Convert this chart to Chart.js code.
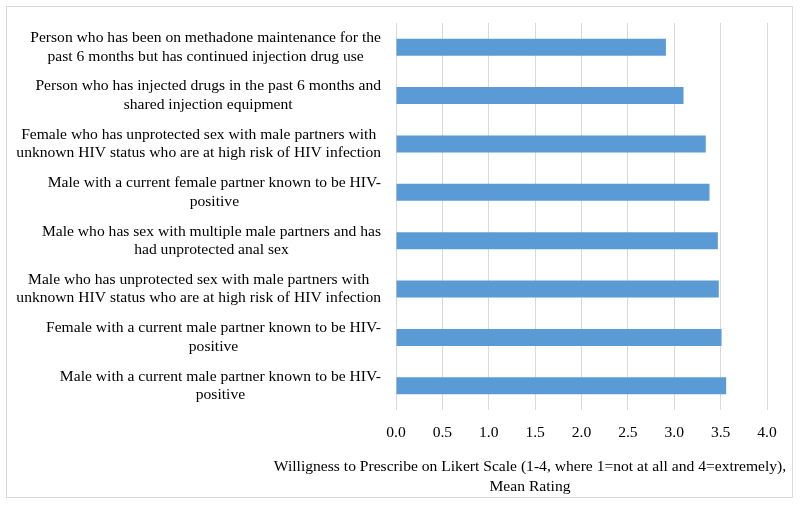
<!DOCTYPE html>
<html>
<head>
<meta charset="utf-8">
<title>Willingness to prescribe</title>
<script src="https://cdn.jsdelivr.net/npm/chart.js@4/dist/chart.umd.min.js"></script>
<style>
  html, body { margin: 0; padding: 0; background: #fff; }
  #wrap { width: 800px; height: 506px; }
</style>
</head>
<body>
<div id="wrap"><canvas id="myChart" width="800" height="506"></canvas></div>
<script>
// categories, top to bottom, split into the lines used in the picture
const categories = [
  ["Person who has been on methadone maintenance for the", "past 6 months but has continued injection drug use"],
  ["Person who has injected drugs in the past 6 months and", "shared injection equipment"],
  ["Female who has unprotected sex with male partners with", "unknown HIV status who are at high risk of HIV infection"],
  ["Male with a current female partner known to be HIV-", "positive"],
  ["Male who has sex with multiple male partners and has", "had unprotected anal sex"],
  ["Male who has unprotected sex with male partners with", "unknown HIV status who are at high risk of HIV infection"],
  ["Female with a current male partner known to be HIV-", "positive"],
  ["Male with a current male partner known to be HIV-", "positive"]
];
const meanRating = [2.91, 3.10, 3.34, 3.38, 3.47, 3.48, 3.51, 3.56];
const xTicks = [0, 0.5, 1, 1.5, 2, 2.5, 3, 3.5, 4];
const axisTitle = ["Willigness to Prescribe on Likert Scale (1-4, where 1=not at all and 4=extremely),", "Mean Rating"];

const FONT = "'Liberation Serif', 'Times New Roman', serif";
const FSIZE = 15.6;

// outer frame round the whole chart
const frame = {
  id: 'frame',
  beforeDraw(chart) {
    const c = chart.ctx;
    c.save();
    c.strokeStyle = '#d9d9d9';
    c.lineWidth = 1;
    c.strokeRect(6.5, 6.5, 786, 491);
    c.restore();
  }
};

// category labels: block right aligned to the axis, lines centred inside the block
const catLabels = {
  id: 'catLabels',
  afterDraw(chart) {
    const c = chart.ctx;
    const y = chart.scales.y;
    const lh = 18.5;
    c.save();
    c.font = FSIZE + 'px ' + FONT;
    c.fillStyle = '#000';
    c.textBaseline = 'middle';
    c.textAlign = 'center';
    categories.forEach(function (lines, i) {
      let w = 0;
      lines.forEach(function (l) { w = Math.max(w, c.measureText(l).width); });
      const right = chart.chartArea.left - 15;
      const cx = right - w / 2;
      const cy = y.getPixelForValue(i);
      const top = cy - (lines.length - 1) * lh / 2;
      lines.forEach(function (l, j) { c.fillText(l, cx, top + j * lh); });
    });
    // axis title
    c.fillText(axisTitle[0], 530, 467);
    c.fillText(axisTitle[1], 530, 487);
    c.restore();
  }
};

let ctx = document.getElementById('myChart').getContext('2d');
let myChart = new Chart(ctx, {
  type: 'bar',
  data: {
    labels: categories,
    datasets: [{
      label: 'Mean rating',
      data: meanRating,
      backgroundColor: '#5b9bd5',
      borderWidth: 0,
      barPercentage: 0.35,
      categoryPercentage: 1.0
    }]
  },
  options: {
    indexAxis: 'y',
    responsive: false,
    animation: false,
    layout: { padding: { top: 23, right: 33, bottom: 0, left: 0 } },
    plugins: {
      legend: { display: false },
      tooltip: { enabled: false }
    },
    scales: {
      x: {
        min: 0,
        max: 4,
        afterBuildTicks: function (scale) {
          scale.ticks = xTicks.map(function (v) { return { value: v }; });
        },
        afterFit: function (scale) { scale.height = 96; },
        grid: { color: '#d9d9d9', drawTicks: false, lineWidth: 1 },
        border: { display: false },
        ticks: {
          padding: 14,
          color: '#000',
          font: { family: FONT, size: FSIZE },
          callback: function (v) { return Number(v).toFixed(1); }
        }
      },
      y: {
        afterFit: function (scale) { scale.width = 396; },
        grid: { display: false },
        border: { display: false },
        ticks: { display: false }
      }
    }
  },
  plugins: [frame, catLabels]
});
</script>
</body>
</html>
